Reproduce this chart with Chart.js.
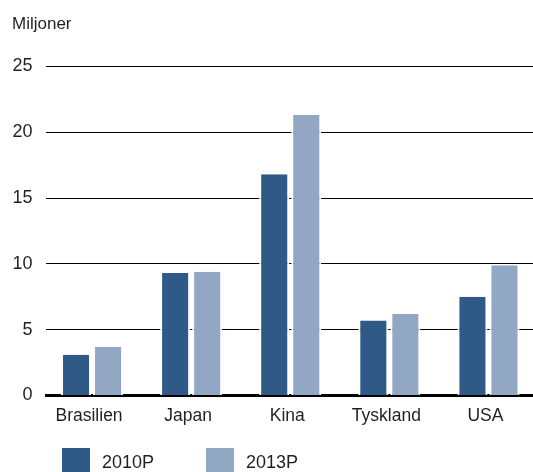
<!DOCTYPE html>
<html>
<head>
<meta charset="utf-8">
<script src="https://cdn.jsdelivr.net/npm/chart.js@4/dist/chart.umd.min.js"></script>
<style>
    html, body { margin: 0; padding: 0; background: #fff; overflow: hidden; }
    #wrap { position: relative; width: 533px; height: 472px; overflow: hidden; }
    #chart { position: absolute; left: 0; top: 0; }
    .lg-box { position: absolute; top: 448px; width: 28px; height: 26px; }
    .lg-text { position: absolute; top: 453px; font: 18px "Liberation Sans", Arial, sans-serif; line-height: 18px; color: #231f20; }
</style>
</head>
<body>
<div id="wrap">
    <canvas id="chart" width="538" height="472"></canvas>
    <div class="lg-box" style="left:62px; background:#2f5986;"></div>
    <div class="lg-text" style="left:102px;" id="lg0"></div>
    <div class="lg-box" style="left:206px; background:#91a7c4;"></div>
    <div class="lg-text" style="left:246px;" id="lg1"></div>
</div>
<script>
    // data
    var categories = ['Brasilien', 'Japan', 'Kina', 'Tyskland', 'USA'];
    var seriesNames = ['2010P', '2013P'];
    var values2010 = [3.1, 9.3, 16.8, 5.7, 7.5];
    var values2013 = [3.7, 9.4, 21.3, 6.2, 9.9];
    var yTicks = [0, 5, 10, 15, 20, 25];
    var unitLabel = 'Miljoner';

    var colors = ['#2f5986', '#91a7c4'];
    var fontFamily = '"Liberation Sans", Arial, sans-serif';
    var textColor = '#231f20';

    document.getElementById('lg0').textContent = seriesNames[0];
    document.getElementById('lg1').textContent = seriesNames[1];

    // grid starts a bit right of the category area in the original
    var shiftGrid = {
        id: 'shiftGrid',
        afterLayout: function (chart) {
            chart.chartArea.left = 46;
            chart.scales.x.left = 46;
        }
    };

    var ctx = document.getElementById('chart');
    new Chart(ctx, {
        type: 'bar',
        data: {
            labels: categories,
            datasets: [{
                label: seriesNames[0],
                data: values2010,
                backgroundColor: colors[0],
                borderColor: '#ffffff',
                borderWidth: { left: 2, right: 2, top: 0, bottom: 0 },
                barPercentage: 0.9375,
                categoryPercentage: 0.6465
            }, {
                label: seriesNames[1],
                data: values2013,
                backgroundColor: colors[1],
                borderColor: '#ffffff',
                borderWidth: { left: 2, right: 2, top: 0, bottom: 0 },
                barPercentage: 0.9375,
                categoryPercentage: 0.6465
            }]
        },
        options: {
            responsive: false,
            animation: false,
            devicePixelRatio: 1,
            layout: {
                padding: { left: 12, right: 0, top: 0, bottom: 35.5 }
            },
            plugins: {
                legend: { display: false },
                tooltip: { enabled: false },
                title: {
                    display: true,
                    text: unitLabel,
                    align: 'start',
                    color: textColor,
                    font: { family: fontFamily, size: 17, weight: 'normal' },
                    padding: { top: 14, bottom: 32 }
                }
            },
            scales: {
                x: {
                    z: 1,
                    grid: { display: false, drawTicks: false },
                    border: { display: true, color: '#000000', width: 3 },
                    ticks: {
                        color: textColor,
                        padding: 10,
                        labelOffset: -3,
                        font: { family: fontFamily, size: 17.5 }
                    }
                },
                y: {
                    min: yTicks[0],
                    max: yTicks[yTicks.length - 1],
                    afterFit: function (scale) { scale.width = 30.5; },
                    afterBuildTicks: function (scale) {
                        scale.ticks = yTicks.map(function (v) { return { value: v }; });
                    },
                    grid: { color: '#000000', lineWidth: 1, drawTicks: false },
                    border: { display: false },
                    ticks: {
                        color: textColor,
                        padding: 10,
                        font: { family: fontFamily, size: 18 }
                    }
                }
            }
        },
        plugins: [shiftGrid]
    });
</script>
</body>
</html>
